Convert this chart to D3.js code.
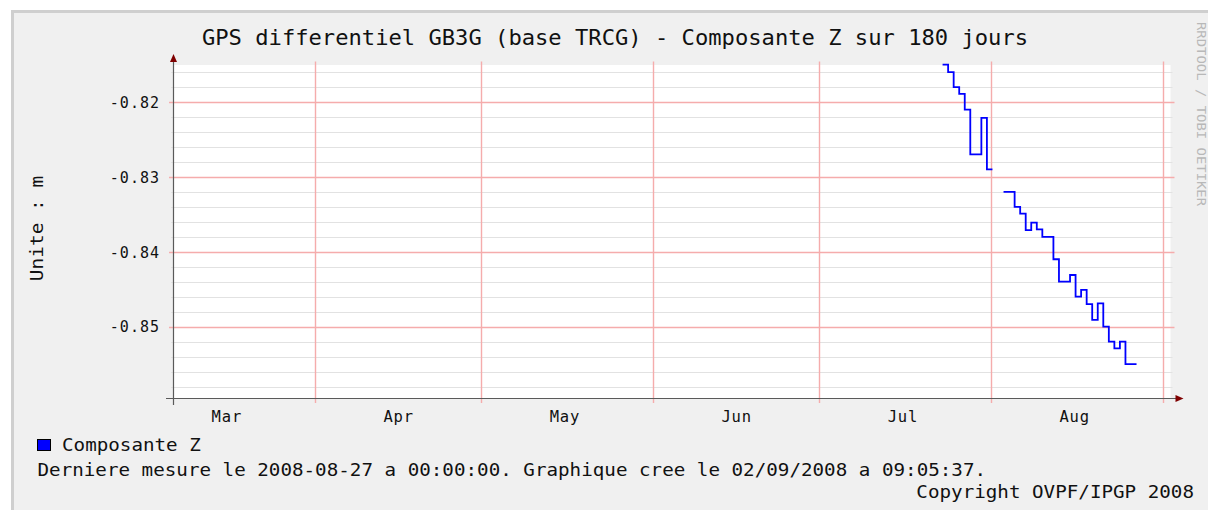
<!DOCTYPE html>
<html>
<head>
<meta charset="utf-8">
<script src="https://cdn.jsdelivr.net/npm/d3@7"></script>
<style>
  html, body { margin: 0; padding: 0; background: #ffffff; }
  svg { display: block; }
  text { font-family: "DejaVu Sans Mono", monospace; }
</style>
</head>
<body>
<svg id="chart" width="1208" height="510"></svg>
<script>
// ---- Data ----
const title = "GPS differentiel GB3G (base TRCG) - Composante Z sur 180 jours";
const yAxisTitle = "Unite : m";
const seriesName = "Composante Z";
const footerText = "Derniere mesure le 2008-08-27 a 00:00:00. Graphique cree le 02/09/2008 a 09:05:37.";
const copyrightText = "Copyright OVPF/IPGP 2008";
const watermark = "RRDTOOL / TOBI OETIKER";

// daily measurement intervals (start of each interval) and values in metres
const dates = [
  "2008-07-23T06:00", "2008-07-24T06:00", "2008-07-25T06:00", "2008-07-26T06:00",
  "2008-07-27T06:00", "2008-07-28T06:00", "2008-07-29T06:00", "2008-07-30T06:00",
  "2008-07-31T06:00",
  "2008-08-03T06:00", "2008-08-04T06:00", "2008-08-05T06:00", "2008-08-06T06:00",
  "2008-08-07T06:00", "2008-08-08T06:00", "2008-08-09T06:00", "2008-08-10T06:00",
  "2008-08-11T06:00", "2008-08-12T06:00", "2008-08-13T06:00", "2008-08-14T06:00",
  "2008-08-15T06:00", "2008-08-16T06:00", "2008-08-17T06:00", "2008-08-18T06:00",
  "2008-08-19T06:00", "2008-08-20T06:00", "2008-08-21T06:00", "2008-08-22T06:00",
  "2008-08-23T06:00", "2008-08-24T06:00", "2008-08-25T06:00", "2008-08-26T06:00"
];
const values = [
  -0.8150, -0.8160, -0.8180, -0.8189,
  -0.8210, -0.8270, -0.8270, -0.8221,
  -0.8290,
  -0.8320, -0.8320, -0.8340, -0.8349,
  -0.8371, -0.8361, -0.8370, -0.8380,
  -0.8380, -0.8410, -0.8440, -0.8440,
  -0.8431, -0.8460, -0.8451, -0.8470,
  -0.8491, -0.8469, -0.8500, -0.8520,
  -0.8529, -0.8520, -0.8550, -0.8550
];
const yMajorTicks = [-0.82, -0.83, -0.84, -0.85];
const monthLabelDates = ["2008-03-16", "2008-04-16", "2008-05-16", "2008-06-16", "2008-07-16", "2008-08-16"];
const graphEnd = "2008-09-02T09:05";
const spanDays = 180;
const yDomain = [-0.8596, -0.81505];

// ---- Drawing ----
const svg = d3.select("#chart");
const parse = s => new Date(s + (s.length > 10 ? ":00Z" : "T00:00:00Z"));
const DAY = 86400000;

const endT = parse(graphEnd);
const startT = new Date(endT.getTime() - spanDays * DAY);

const plot = { left: 173, right: 1170.5, top: 65, bottom: 398.5 };
const x = d3.scaleUtc().domain([startT, endT]).range([plot.left, plot.right]);
const y = d3.scaleLinear().domain(yDomain).range([plot.bottom, plot.top]);

const GRID_MINOR = "rgb(226,226,226)";
const GRID_MAJOR = "rgb(245,172,172)";

// background + frame
svg.append("rect").attr("x", 0).attr("y", 0).attr("width", 1208).attr("height", 510).attr("fill", "#ffffff");
svg.append("rect").attr("x", 11).attr("y", 10).attr("width", 1197).attr("height", 500).attr("fill", "#f0f0f0");
svg.append("rect").attr("x", 11).attr("y", 10).attr("width", 1197).attr("height", 3).attr("fill", "#cfcfcf");
svg.append("rect").attr("x", 11).attr("y", 10).attr("width", 3).attr("height", 500).attr("fill", "#cfcfcf");

// canvas
svg.append("rect").attr("x", plot.left).attr("y", plot.top)
  .attr("width", plot.right - plot.left).attr("height", plot.bottom - plot.top)
  .attr("fill", "#ffffff");

// minor horizontal grid (every 0.002), skipping the major positions
const minorK = d3.range(408, 430).filter(k => k % 5 !== 0);
svg.append("g").selectAll("line").data(minorK.map(k => -k * 0.002))
  .join("line")
  .attr("x1", plot.left - 2).attr("x2", plot.right + 2)
  .attr("y1", d => Math.round(y(d)) + 0.5).attr("y2", d => Math.round(y(d)) + 0.5)
  .attr("stroke", GRID_MINOR).attr("stroke-width", 1.2);

// major horizontal grid
svg.append("g").selectAll("line").data(yMajorTicks)
  .join("line")
  .attr("x1", plot.left - 4).attr("x2", plot.right + 4)
  .attr("y1", d => Math.round(y(d)) + 0.5).attr("y2", d => Math.round(y(d)) + 0.5)
  .attr("stroke", GRID_MAJOR).attr("stroke-width", 1.4);

// month grid lines
const months = d3.utcMonth.range(startT, endT);
svg.append("g").selectAll("line").data(months)
  .join("line")
  .attr("x1", d => Math.round(x(d)) + 0.5).attr("x2", d => Math.round(x(d)) + 0.5)
  .attr("y1", plot.top - 3.5).attr("y2", plot.bottom + 4.5)
  .attr("stroke", GRID_MAJOR).attr("stroke-width", 1.4);

// axes lines
svg.append("line").attr("x1", plot.left - 7).attr("x2", plot.right + 7)
  .attr("y1", plot.bottom).attr("y2", plot.bottom).attr("stroke", "#5a5a5a").attr("stroke-width", 1.2);
svg.append("line").attr("x1", plot.left + 0.5).attr("x2", plot.left + 0.5)
  .attr("y1", plot.bottom + 6.5).attr("y2", plot.top - 6).attr("stroke", "#5a5a5a").attr("stroke-width", 1.2);
// arrows
svg.append("path").attr("d", `M${plot.left + 0.5},${plot.top - 11} L${plot.left - 3},${plot.top - 3} L${plot.left + 4},${plot.top - 3} Z`).attr("fill", "#7f0000");
svg.append("path").attr("d", `M${plot.right + 13},${plot.bottom} L${plot.right + 5},${plot.bottom - 3.5} L${plot.right + 5},${plot.bottom + 3.5} Z`).attr("fill", "#7f0000");

// y axis labels
const yAxis = d3.axisLeft(y).tickValues(yMajorTicks).tickFormat(d => d.toFixed(2)).tickSize(0).tickPadding(13);
const gy = svg.append("g").attr("transform", `translate(${plot.left},0.5)`).call(yAxis);
gy.select(".domain").remove();
gy.selectAll("text").attr("font-family", "DejaVu Sans Mono").attr("font-size", 15)
  .attr("letter-spacing", 1).attr("fill", "#111").attr("dy", "0.32em");

// x axis month labels
const xAxis = d3.axisBottom(x).tickValues(monthLabelDates.map(parse)).tickFormat(d3.utcFormat("%b")).tickSize(0);
const gx = svg.append("g").attr("transform", `translate(0,${plot.bottom})`).call(xAxis);
gx.select(".domain").remove();
gx.selectAll("text").attr("font-family", "DejaVu Sans Mono").attr("font-size", 15.5)
  .attr("letter-spacing", 0.8).attr("fill", "#111").attr("y", 23.5).attr("dy", 0);

// data line (step per daily interval, breaks on gaps)
const runs = [];
let cur = null, prevEnd = null;
dates.forEach((s, i) => {
  const t0 = parse(s), t1 = new Date(t0.getTime() + DAY);
  if (!cur || t0.getTime() - prevEnd.getTime() > 1000) { cur = []; runs.push(cur); }
  cur.push([t0, values[i]], [t1, values[i]]);
  prevEnd = t1;
});
const line = d3.line().x(d => x(d[0])).y(d => y(d[1]));
svg.append("g").selectAll("path").data(runs).join("path")
  .attr("d", line).attr("fill", "none").attr("stroke", "#0000ff").attr("stroke-width", 1.8)
  .attr("stroke-linejoin", "miter");

// helper: horizontally stretched monospace text
function stext(str, tx, ty, size, sx, anchor, rot, color) {
  const g = svg.append("g").attr("transform", `translate(${tx},${ty}) rotate(${rot || 0}) scale(${sx},1)`);
  g.append("text").text(str).attr("font-size", size).attr("text-anchor", anchor || "start")
    .attr("fill", color || "#111").attr("xml:space", "preserve");
}

stext(title, 615, 45, 20.5, 1.08, "middle");
stext(yAxisTitle, 42.5, 228.5, 18, 1.08, "middle", -90);
stext(watermark, 1197, 22, 13, 1.07, "start", 90, "#b8b8b8");

// legend
svg.append("rect").attr("x", 37.5).attr("y", 439.5).attr("width", 13).attr("height", 11)
  .attr("fill", "#0000ff").attr("stroke", "#000").attr("stroke-width", 1);
stext(seriesName, 62, 450.5, 17.8, 1.08, "start");
stext(footerText, 37.5, 476, 17.8, 1.08, "start");
stext(copyrightText, 1194, 497.5, 17.8, 1.08, "end");
</script>
</body>
</html>
